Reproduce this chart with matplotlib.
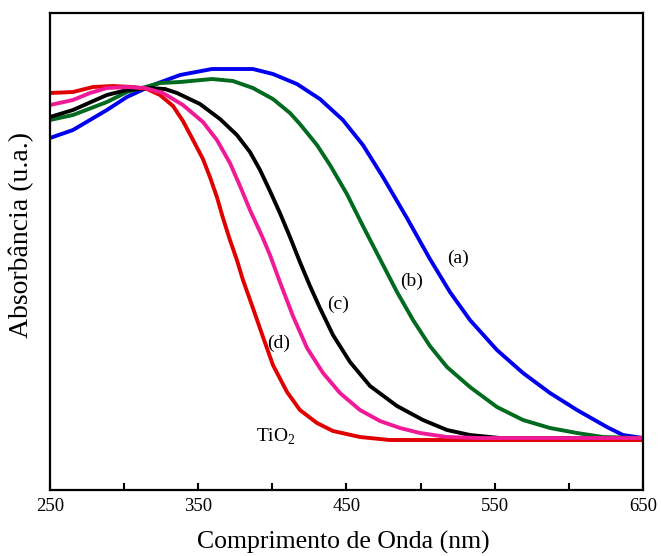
import matplotlib
matplotlib.use("Agg")
import matplotlib.pyplot as plt
from matplotlib.ticker import FixedLocator

plt.rcParams['font.family'] = ['Liberation Serif', 'DejaVu Serif']
plt.rcParams['mathtext.fontset'] = 'custom'
plt.rcParams['mathtext.rm'] = 'Liberation Serif'

# UV-Vis spectra, absorbance in arbitrary units
wl_a = [250, 265.5, 288.4, 301.9, 319.5, 337.7, 359.3, 386.9, 400.4, 416.6, 432.1, 447.6,
        461.1, 474.6, 490.8, 506.3, 519.8, 533.3, 551.5, 569.1, 587.3, 605.5, 625.7, 636.5, 650]
abs_a = [352, 360, 380, 393, 405, 415, 421, 421, 416, 406, 391, 370,
         345, 313, 272, 231, 198, 170, 140, 117, 97, 80, 63, 55, 52]

wl_b = [250, 265.5, 288.4, 301.9, 324.2, 337.7, 359.3, 373.4, 386.9, 400.4, 411.9, 418.6, 430.1, 438.9,
        450.3, 461.1, 472.6, 484.1, 494.9, 506.3, 517.8, 533.3, 551.5, 569.1, 587.3, 605.5, 623.0, 650]
abs_b = [370, 375, 388, 398, 407, 408, 411, 409, 402, 391, 377, 366, 345, 325,
         296, 264, 231, 198, 170, 144, 123, 103, 83, 70, 62, 57, 53, 52]

wl_c = [250, 265.5, 288.4, 301.9, 317.5, 327.6, 335.7, 351.2, 364.7, 376.1, 384.9, 391.7, 398.4, 405.1,
        411.9, 418.6, 425.4, 432.1, 440.9, 452.4, 465.9, 484.1, 501.6, 517.8, 533.3, 553.5, 650]
abs_c = [373, 380, 395, 400, 402, 401, 397, 386, 371, 355, 338, 320, 299, 277,
         253, 228, 204, 182, 155, 128, 104, 84, 70, 60, 55, 52, 52]

wl_d = [250, 265.5, 277.0, 288.4, 301.9, 314.1, 326.2, 339.7, 353.2, 362.6, 371.4, 378.2, 384.9, 393.0,
        398.4, 405.1, 413.9, 423.4, 434.2, 445.6, 459.1, 472.6, 486.1, 499.6, 517.8, 540.1, 650]
abs_d = [385, 390, 397, 402, 403, 402, 397, 385, 368, 350, 327, 304, 280, 254,
         235, 208, 174, 142, 117, 97, 80, 69, 62, 57, 53, 52, 52]

wl_tio2 = [250, 265.5, 279.0, 292.5, 306.0, 315.4, 324.2, 333.0, 339.7, 346.5, 353.2, 357.9, 362.6, 366.7,
           371.4, 376.1, 380.2, 386.9, 393.7, 400.4, 409.9, 418.6, 430.1, 440.9, 459.1, 479.3, 650]
abs_tio2 = [397, 398, 403, 404, 403, 401, 395, 384, 369, 350, 331, 313, 293, 272,
            250, 230, 210, 182, 153, 125, 98, 80, 67, 59, 53, 50, 50]

labels = ['(a)', '(b)', '(c)', '(d)', r'TiO$_2$']
label_pos = [(525.2, 232), (494.2, 209), (444.3, 186), (404.5, 147), (402.5, 53)]

xticks_major = [250, 350, 450, 550, 650]
xticks_minor = [300, 400, 500, 600]

fig = plt.figure(figsize=(6.61, 5.56), dpi=100)
ax = fig.add_axes([0.0756, 0.1187, 0.8971, 0.8579])

lw = 2.8
ax.plot(wl_a, abs_a, color='#0000ee', lw=lw)
ax.plot(wl_b, abs_b, color='#006a1e', lw=lw)
ax.plot(wl_c, abs_c, color='black', lw=lw)
ax.plot(wl_tio2, abs_tio2, color='#e00000', lw=lw)
ax.plot(wl_d, abs_d, color='#f01a96', lw=lw)

for txt, (x, y) in zip(labels, label_pos):
    ax.text(x, y, txt, fontsize=14, ha='center', va='center')

ax.set_xlim(250, 650)
ax.set_ylim(0, 477)
ax.xaxis.set_major_locator(FixedLocator(xticks_major))
ax.xaxis.set_minor_locator(FixedLocator(xticks_minor))
ax.tick_params(axis='x', which='both', direction='in', length=5, width=1.5,
               labelsize=13.5, pad=6)
ax.set_yticks([])
for sp in ax.spines.values():
    sp.set_linewidth(1.6)

ax.set_xlabel('Comprimento de Onda (nm)', fontsize=18.5)
ax.set_ylabel('Absorbância (u.a.)', fontsize=20)
ax.xaxis.set_label_coords(0.494, -0.086)
ax.yaxis.set_label_coords(-0.027, 0.535)

fig.savefig('out.png', dpi=100)
